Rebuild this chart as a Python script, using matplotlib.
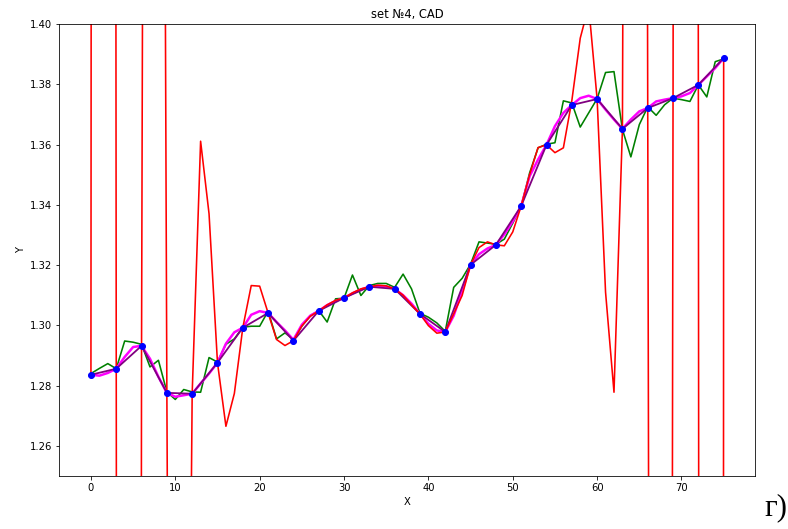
import numpy as np
import matplotlib
matplotlib.use('Agg')
import matplotlib.pyplot as plt

# x grid (every step) and the sampled nodes (every 3rd step)
x_all = np.arange(76)
x_nodes = np.arange(0, 76, 3)

# green: original data
y_data = [1.2840, 1.2857, 1.2873, 1.2856, 1.2948, 1.2944, 1.2937, 1.2862, 1.2884, 1.2779,
          1.2754, 1.2787, 1.2779, 1.2778, 1.2893, 1.2878, 1.2937, 1.2955, 1.2994, 1.2997,
          1.2997, 1.3047, 1.2955, 1.2975, 1.2953, 1.2997, 1.3032, 1.3049, 1.3011, 1.3088,
          1.3090, 1.3167, 1.3099, 1.3132, 1.3139, 1.3139, 1.3126, 1.3170, 1.3121, 1.3040,
          1.3027, 1.3008, 1.2980, 1.3126, 1.3156, 1.3203, 1.3277, 1.3273, 1.3269, 1.3286,
          1.3339, 1.3396, 1.3506, 1.3589, 1.3601, 1.3606, 1.3745, 1.3738, 1.3658, 1.3705,
          1.3752, 1.3839, 1.3842, 1.3650, 1.3559, 1.3666, 1.3725, 1.3697, 1.3732, 1.3754,
          1.3749, 1.3743, 1.3798, 1.3758, 1.3875, 1.3884]

# blue: nodes
y_nodes = [1.2836, 1.2856, 1.2932, 1.2776, 1.2773, 1.2876, 1.2992, 1.3041, 1.2949, 1.3048,
           1.3091, 1.3128, 1.3121, 1.3038, 1.2978, 1.3201, 1.3267, 1.3396, 1.3599, 1.3731,
           1.3751, 1.3652, 1.3721, 1.3754, 1.3798, 1.3887]

# red: polynomial through the nodes (blows up near the ends)
y_poly = [1.2836, 6.0, 4.5, 1.2856, -1.5, -0.9, 1.2932, 2.3, 2.0, 1.2776,
          0.7, 0.95, 1.2773, 1.3611, 1.3370, 1.2876, 1.2665, 1.2774, 1.2992, 1.3132,
          1.3130, 1.3041, 1.2953, 1.2933, 1.2949, 1.2998, 1.3030, 1.3048, 1.3068, 1.3083,
          1.3091, 1.3108, 1.3121, 1.3128, 1.3133, 1.3131, 1.3121, 1.3100, 1.3068, 1.3038,
          1.2999, 1.2974, 1.2978, 1.3038, 1.3099, 1.3201, 1.3258, 1.3277, 1.3267, 1.3264,
          1.3310, 1.3396, 1.3500, 1.3590, 1.3599, 1.3573, 1.3589, 1.3745, 1.3953, 1.4060,
          1.3751, 1.3110, 1.2778, 1.3652, 2.2, 2.6, 1.3721, 0.1, -0.3, 1.3754,
          3.5, 4.0, 1.3798, -2.0, -6.0, 1.3887]

# magenta: spline through the nodes
y_spline = [1.2836, 1.2833, 1.2842, 1.2856, 1.2895, 1.2928, 1.2932, 1.2889, 1.2829, 1.2776,
            1.2763, 1.2768, 1.2773, 1.2807, 1.2840, 1.2876, 1.2939, 1.2977, 1.2992, 1.3035,
            1.3047, 1.3041, 1.3011, 1.2983, 1.2952, 1.3002, 1.3032, 1.3048, 1.3067, 1.3081,
            1.3091, 1.3106, 1.3119, 1.3128, 1.3131, 1.3129, 1.3121, 1.3100, 1.3072, 1.3038,
            1.3005, 1.2983, 1.2978, 1.3032, 1.3115, 1.3201, 1.3236, 1.3255, 1.3267, 1.3302,
            1.3345, 1.3396, 1.3495, 1.3550, 1.3599, 1.3661, 1.3705, 1.3731, 1.3754, 1.3762,
            1.3751, 1.3716, 1.3683, 1.3652, 1.3683, 1.3710, 1.3721, 1.3743, 1.3749, 1.3754,
            1.3760, 1.3771, 1.3798, 1.3826, 1.3854, 1.3887]

fig = plt.figure(figsize=(788 / 72, 529 / 72), dpi=72)
ax = fig.add_axes([59.3 / 788, 1 - 476 / 529, 696 / 788, 452 / 529])

ax.plot(x_all, y_data, color='green', lw=1.6)
ax.plot(x_all, y_spline, color='magenta', lw=2.5)
ax.plot(x_nodes, y_nodes, color='purple', lw=1.8)
ax.plot(x_all, y_poly, color='red', lw=1.6)
ax.plot(x_nodes, y_nodes, 'bo', markersize=6)

ax.set_ylim(1.25, 1.40)
ax.set_xlim(-3.75, 78.75)
ax.set_title('set №4, CAD', fontsize=11.5)
ax.set_xlabel('X', fontsize=10)
ax.set_ylabel('Y', fontsize=10)

fig.text(0.9995, 0.012, 'г)', ha='right', va='bottom', fontsize=31,
         family=['Liberation Serif', 'DejaVu Serif'])

fig.savefig('out.png', dpi=72)
